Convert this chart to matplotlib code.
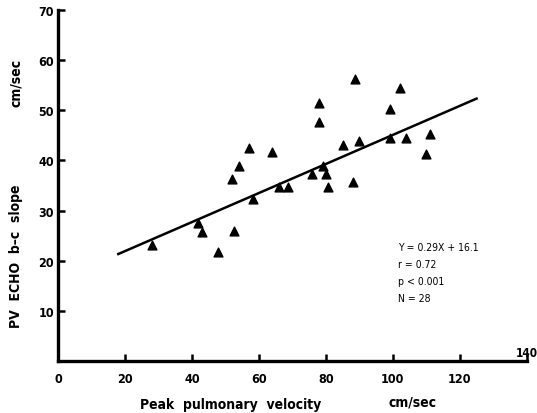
import matplotlib.pyplot as plt

# readings
peak_velocity = [28, 41.8, 43, 47.8, 52.5, 52, 54, 57, 58.2, 64, 66, 68.7, 76, 78,
                 78, 79, 80, 80.6, 85, 88, 88.7, 90, 99, 99, 102, 104, 110, 111]
echo_slope = [23.2, 27.5, 25.7, 21.7, 26, 36.3, 38.8, 42.4, 32.3, 41.6, 34.7, 34.7,
              37.3, 51.4, 47.6, 38.8, 37.3, 34.7, 43, 35.7, 56.2, 43.8, 50.2, 44.4,
              54.4, 44.4, 41.2, 45.2]
fit_slope = 0.29
fit_intercept = 16.1
fit_range = [18, 125]
x_ticks = [0, 20, 40, 60, 80, 100, 120, 140]
y_ticks = [10, 20, 30, 40, 50, 60, 70]
stats_lines = ["Y = 0.29X + 16.1", "r = 0.72", "p < 0.001", "N = 28"]

plt.rcParams["font.family"] = ["DejaVu Sans"]
plt.rcParams["font.stretch"] = "condensed"
plt.rcParams["font.weight"] = "bold"

fig = plt.figure(figsize=(5.37, 4.14), dpi=100)
ax = fig.add_axes([0.108, 0.126, 0.873, 0.847])

ax.scatter(peak_velocity, echo_slope, marker="^", s=40, color="black", zorder=3)
fit_y = [fit_slope * v + fit_intercept for v in fit_range]
ax.plot(fit_range, fit_y, color="black", lw=1.8)

ax.set_xlim(0, 140)
ax.set_ylim(0, 70)
ax.spines["top"].set_visible(False)
ax.spines["right"].set_visible(False)
ax.spines["left"].set_linewidth(2.4)
ax.spines["bottom"].set_linewidth(2.4)
ax.set_xticks(x_ticks)
# last label sits up beside the axis end in the original
ax.set_xticklabels([str(t) for t in x_ticks[:-1]] + [""])
ax.set_yticks(y_ticks)
ax.set_yticklabels([str(t) for t in y_ticks])
ax.tick_params(direction="in", length=5, width=1.8, labelsize=9)
ax.tick_params(axis="x", pad=8)
ax.tick_params(axis="y", pad=3)
ax.text(x_ticks[-1], 0.3, str(x_ticks[-1]), fontsize=8.5, ha="center",
        va="bottom", clip_on=False)

for i, line in enumerate(stats_lines):
    ax.text(101.5, 22.7 - i * 3.4, line, fontsize=7.5, fontweight="normal",
            va="center")

# axis titles are split in the original
fig.text(0.03, 0.38, "PV  ECHO  b\u2013c  slope", rotation=90, fontsize=10,
         ha="center", va="center")
fig.text(0.03, 0.80, "cm/sec", rotation=90, fontsize=10, ha="center", va="center")
fig.text(0.43, 0.005, "Peak  pulmonary  velocity", fontsize=10,
         ha="center", va="bottom")
fig.text(0.768, 0.012, "cm/sec", fontsize=10, ha="center", va="bottom")

fig.savefig("out.png", dpi=100)
